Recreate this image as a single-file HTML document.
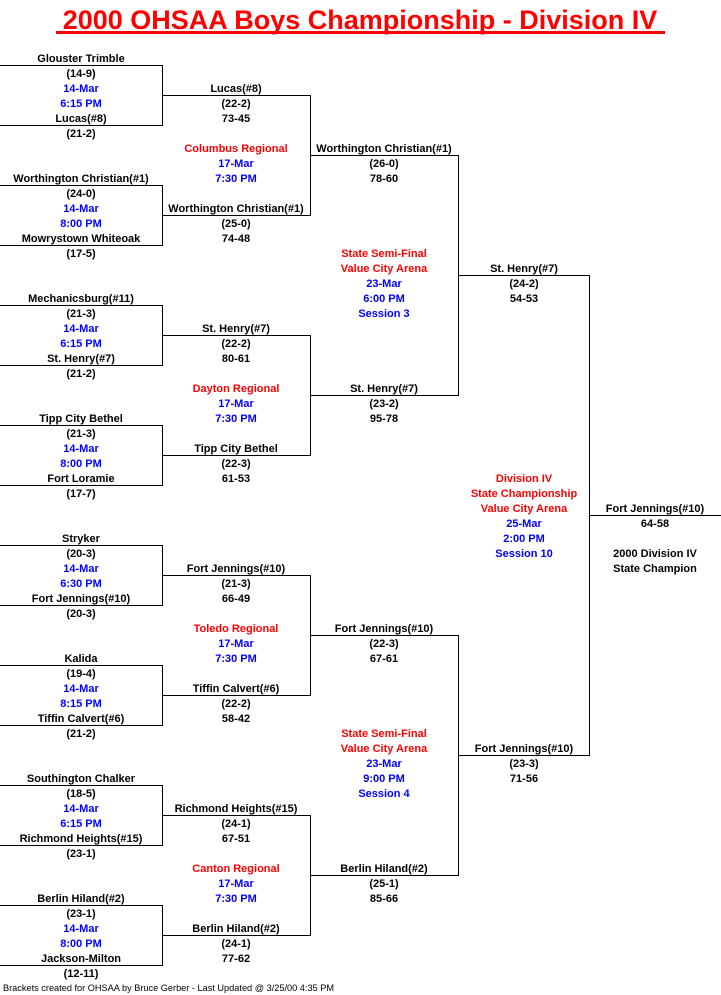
<!DOCTYPE html>
<html><head><meta charset="utf-8"><style>
html,body{margin:0;padding:0;background:#fff;width:721px;height:995px;overflow:hidden}
svg{display:block}
text{font-family:"Liberation Sans",Arial,sans-serif;font-weight:bold;font-size:11px;text-anchor:middle}
.b{fill:#0000ff}.r{fill:#ff0000}
</style></head><body>
<svg width="721" height="995" viewBox="0 0 721 995" xmlns="http://www.w3.org/2000/svg">
<text x="360" y="29" class="r" style="font-size:27px">2000 OHSAA Boys Championship - Division IV</text>
<rect x="56" y="31" width="609" height="3" fill="#ff0000"/>
<g stroke="#000" stroke-width="1" fill="none" shape-rendering="crispEdges">
<path d="M0 65.5H162.5V125.5H0"/>
<path d="M0 185.5H162.5V245.5H0"/>
<path d="M0 305.5H162.5V365.5H0"/>
<path d="M0 425.5H162.5V485.5H0"/>
<path d="M0 545.5H162.5V605.5H0"/>
<path d="M0 665.5H162.5V725.5H0"/>
<path d="M0 785.5H162.5V845.5H0"/>
<path d="M0 905.5H162.5V965.5H0"/>
<path d="M162 95.5H310.5V215.5H162"/>
<path d="M162 335.5H310.5V455.5H162"/>
<path d="M162 575.5H310.5V695.5H162"/>
<path d="M162 815.5H310.5V935.5H162"/>
<path d="M310 155.5H458.5V395.5H310"/>
<path d="M310 635.5H458.5V875.5H310"/>
<path d="M458 275.5H589.5V755.5H458"/>
<path d="M589 515.5H721"/>
</g>
<g>
<text x="81" y="62">Glouster Trimble</text><text x="81" y="77">(14-9)</text><text x="81" y="92" class="b">14-Mar</text><text x="81" y="107" class="b">6:15 PM</text><text x="81" y="122">Lucas(#8)</text><text x="81" y="137">(21-2)</text>
<text x="81" y="182">Worthington Christian(#1)</text><text x="81" y="197">(24-0)</text><text x="81" y="212" class="b">14-Mar</text><text x="81" y="227" class="b">8:00 PM</text><text x="81" y="242">Mowrystown Whiteoak</text><text x="81" y="257">(17-5)</text>
<text x="81" y="302">Mechanicsburg(#11)</text><text x="81" y="317">(21-3)</text><text x="81" y="332" class="b">14-Mar</text><text x="81" y="347" class="b">6:15 PM</text><text x="81" y="362">St. Henry(#7)</text><text x="81" y="377">(21-2)</text>
<text x="81" y="422">Tipp City Bethel</text><text x="81" y="437">(21-3)</text><text x="81" y="452" class="b">14-Mar</text><text x="81" y="467" class="b">8:00 PM</text><text x="81" y="482">Fort Loramie</text><text x="81" y="497">(17-7)</text>
<text x="81" y="542">Stryker</text><text x="81" y="557">(20-3)</text><text x="81" y="572" class="b">14-Mar</text><text x="81" y="587" class="b">6:30 PM</text><text x="81" y="602">Fort Jennings(#10)</text><text x="81" y="617">(20-3)</text>
<text x="81" y="662">Kalida</text><text x="81" y="677">(19-4)</text><text x="81" y="692" class="b">14-Mar</text><text x="81" y="707" class="b">8:15 PM</text><text x="81" y="722">Tiffin Calvert(#6)</text><text x="81" y="737">(21-2)</text>
<text x="81" y="782">Southington Chalker</text><text x="81" y="797">(18-5)</text><text x="81" y="812" class="b">14-Mar</text><text x="81" y="827" class="b">6:15 PM</text><text x="81" y="842">Richmond Heights(#15)</text><text x="81" y="857">(23-1)</text>
<text x="81" y="902">Berlin Hiland(#2)</text><text x="81" y="917">(23-1)</text><text x="81" y="932" class="b">14-Mar</text><text x="81" y="947" class="b">8:00 PM</text><text x="81" y="962">Jackson-Milton</text><text x="81" y="977">(12-11)</text>
</g>
<g>
<text x="236" y="92">Lucas(#8)</text><text x="236" y="107">(22-2)</text><text x="236" y="122">73-45</text>
<text x="236" y="152" class="r">Columbus Regional</text><text x="236" y="167" class="b">17-Mar</text><text x="236" y="182" class="b">7:30 PM</text>
<text x="236" y="212">Worthington Christian(#1)</text><text x="236" y="227">(25-0)</text><text x="236" y="242">74-48</text>
<text x="236" y="332">St. Henry(#7)</text><text x="236" y="347">(22-2)</text><text x="236" y="362">80-61</text>
<text x="236" y="392" class="r">Dayton Regional</text><text x="236" y="407" class="b">17-Mar</text><text x="236" y="422" class="b">7:30 PM</text>
<text x="236" y="452">Tipp City Bethel</text><text x="236" y="467">(22-3)</text><text x="236" y="482">61-53</text>
<text x="236" y="572">Fort Jennings(#10)</text><text x="236" y="587">(21-3)</text><text x="236" y="602">66-49</text>
<text x="236" y="632" class="r">Toledo Regional</text><text x="236" y="647" class="b">17-Mar</text><text x="236" y="662" class="b">7:30 PM</text>
<text x="236" y="692">Tiffin Calvert(#6)</text><text x="236" y="707">(22-2)</text><text x="236" y="722">58-42</text>
<text x="236" y="812">Richmond Heights(#15)</text><text x="236" y="827">(24-1)</text><text x="236" y="842">67-51</text>
<text x="236" y="872" class="r">Canton Regional</text><text x="236" y="887" class="b">17-Mar</text><text x="236" y="902" class="b">7:30 PM</text>
<text x="236" y="932">Berlin Hiland(#2)</text><text x="236" y="947">(24-1)</text><text x="236" y="962">77-62</text>
</g>
<g>
<text x="384" y="152">Worthington Christian(#1)</text><text x="384" y="167">(26-0)</text><text x="384" y="182">78-60</text>
<text x="384" y="257" class="r">State Semi-Final</text><text x="384" y="272" class="r">Value City Arena</text><text x="384" y="287" class="b">23-Mar</text><text x="384" y="302" class="b">6:00 PM</text><text x="384" y="317" class="b">Session 3</text>
<text x="384" y="392">St. Henry(#7)</text><text x="384" y="407">(23-2)</text><text x="384" y="422">95-78</text>
<text x="384" y="632">Fort Jennings(#10)</text><text x="384" y="647">(22-3)</text><text x="384" y="662">67-61</text>
<text x="384" y="737" class="r">State Semi-Final</text><text x="384" y="752" class="r">Value City Arena</text><text x="384" y="767" class="b">23-Mar</text><text x="384" y="782" class="b">9:00 PM</text><text x="384" y="797" class="b">Session 4</text>
<text x="384" y="872">Berlin Hiland(#2)</text><text x="384" y="887">(25-1)</text><text x="384" y="902">85-66</text>
</g>
<g>
<text x="524" y="272">St. Henry(#7)</text><text x="524" y="287">(24-2)</text><text x="524" y="302">54-53</text>
<text x="524" y="482" class="r">Division IV</text><text x="524" y="497" class="r">State Championship</text><text x="524" y="512" class="r">Value City Arena</text><text x="524" y="527" class="b">25-Mar</text><text x="524" y="542" class="b">2:00 PM</text><text x="524" y="557" class="b">Session 10</text>
<text x="524" y="752">Fort Jennings(#10)</text><text x="524" y="767">(23-3)</text><text x="524" y="782">71-56</text>
</g>
<g>
<text x="655" y="512">Fort Jennings(#10)</text><text x="655" y="527">64-58</text>
<text x="655" y="557">2000 Division IV</text><text x="655" y="572">State Champion</text>
</g>
<text x="3" y="991" textLength="331" lengthAdjust="spacingAndGlyphs" style="text-anchor:start;font-weight:normal;font-size:9.5px">Brackets created for OHSAA by Bruce Gerber - Last Updated @ 3/25/00 4:35 PM</text>
</svg>
</body></html>
